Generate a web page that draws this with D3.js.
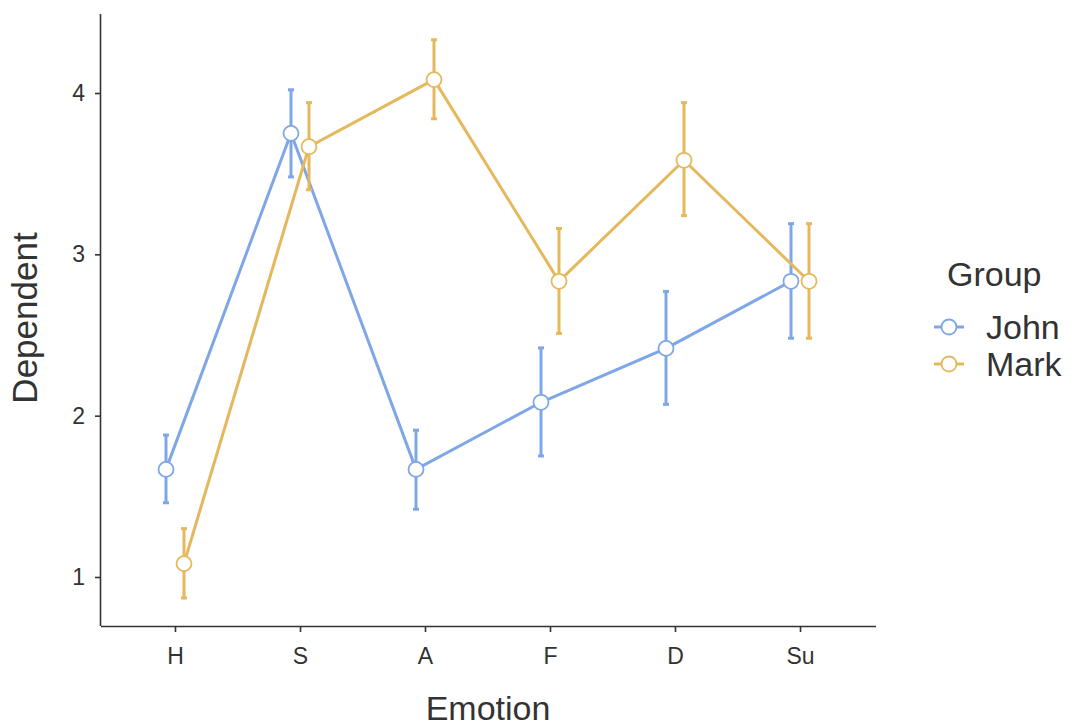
<!DOCTYPE html>
<html>
<head>
<meta charset="UTF-8">
<script src="https://d3js.org/d3.v7.min.js"></script>
<style>
  body { margin: 0; background: #ffffff; font-family: "Liberation Sans", Arial, sans-serif; }
  svg { display: block; }
</style>
</head>
<body>
<svg id="chart" width="1077" height="728"></svg>
<script>
const emotions = ["H", "S", "A", "F", "D", "Su"];
const groups = ["John", "Mark"];
const johnMean = [1.667, 3.75, 1.667, 2.083, 2.417, 2.833];
const johnLow  = [1.46, 3.48, 1.42, 1.75, 2.07, 2.48];
const johnHigh = [1.88, 4.02, 1.91, 2.42, 2.77, 3.19];
const markMean = [1.083, 3.667, 4.083, 2.833, 3.583, 2.833];
const markLow  = [0.87, 3.40, 3.84, 2.51, 3.24, 2.48];
const markHigh = [1.30, 3.94, 4.33, 3.16, 3.94, 3.19];
const yTicks = [1, 2, 3, 4];
const colors = { John: "#7fa6e6", Mark: "#e5b85c" };

const series = [
  { name: "John", mean: johnMean, low: johnLow, high: johnHigh, dodge: -9 },
  { name: "Mark", mean: markMean, low: markLow, high: markHigh, dodge: 9 }
];

const svg = d3.select("#chart");
const plotLeft = 101, plotRight = 876, plotTop = 14, plotBottom = 626;
const ink = "#333";
const font = "'Liberation Sans', Arial, sans-serif";

const x = d3.scalePoint().domain(emotions).range([175, 800]);
const y = d3.scaleLinear().domain([1, 4]).range([577, 93]);

// axes
const xAxis = svg.append("g").attr("transform", `translate(0,${plotBottom})`)
  .call(d3.axisBottom(x).tickSize(6).tickPadding(16).tickSizeOuter(0));
xAxis.select(".domain").attr("d", `M${plotLeft},0.5H${plotRight}`);
const yAxis = svg.append("g").attr("transform", `translate(${plotLeft},0)`)
  .call(d3.axisLeft(y).tickValues(yTicks).tickFormat(d3.format("d")).tickSize(6).tickPadding(10).tickSizeOuter(0));
yAxis.select(".domain").attr("d", `M-0.5,${plotTop}V${plotBottom}`);
svg.selectAll(".domain").attr("stroke", ink).attr("stroke-width", 1.6);
svg.selectAll(".tick line").attr("stroke", ink).attr("stroke-width", 1.6);
svg.selectAll(".tick text").attr("fill", ink).style("font-size", "23px").style("font-family", font);

svg.append("text").attr("x", 488).attr("y", 720).attr("text-anchor", "middle")
  .style("font-size", "34px").style("font-family", font).attr("fill", ink).text("Emotion");
svg.append("text").attr("transform", "translate(37,318) rotate(-90)").attr("text-anchor", "middle")
  .style("font-size", "35px").style("font-family", font).attr("fill", ink).text("Dependent");

const line = d3.line().x(d => d.x).y(d => d.y);

series.forEach(s => {
  const pts = emotions.map((e, i) => ({ x: x(e) + s.dodge, y: y(s.mean[i]), lo: y(s.low[i]), hi: y(s.high[i]) }));
  const g = svg.append("g");
  // error bars with small caps
  g.selectAll("line.err").data(pts).join("line")
    .attr("x1", d => d.x).attr("x2", d => d.x)
    .attr("y1", d => d.lo).attr("y2", d => d.hi)
    .attr("stroke", colors[s.name]).attr("stroke-width", 3);
  g.selectAll("line.capt").data(pts).join("line")
    .attr("x1", d => d.x - 3).attr("x2", d => d.x + 3)
    .attr("y1", d => d.hi).attr("y2", d => d.hi)
    .attr("stroke", colors[s.name]).attr("stroke-width", 3);
  g.selectAll("line.capb").data(pts).join("line")
    .attr("x1", d => d.x - 3).attr("x2", d => d.x + 3)
    .attr("y1", d => d.lo).attr("y2", d => d.lo)
    .attr("stroke", colors[s.name]).attr("stroke-width", 3);
  g.append("path").datum(pts).attr("d", line).attr("fill", "none")
    .attr("stroke", colors[s.name]).attr("stroke-width", 3);
  s.g = g; s.pts = pts;
});
series.forEach(s => {
  s.g.selectAll("circle").data(s.pts).join("circle")
    .attr("cx", d => d.x).attr("cy", d => d.y).attr("r", 7.5)
    .attr("fill", "#fff").attr("stroke", colors[s.name]).attr("stroke-width", 1.8);
});

// legend
const leg = svg.append("g").style("font-family", font);
leg.append("text").attr("x", 947).attr("y", 286).style("font-size", "34px").attr("fill", ink).text("Group");
groups.forEach((gname, i) => {
  const cy = 327 + i * 37;
  leg.append("line").attr("x1", 934).attr("x2", 964).attr("y1", cy).attr("y2", cy)
    .attr("stroke", colors[gname]).attr("stroke-width", 3);
  leg.append("circle").attr("cx", 949).attr("cy", cy).attr("r", 7.5)
    .attr("fill", "#fff").attr("stroke", colors[gname]).attr("stroke-width", 1.8);
  leg.append("text").attr("x", 986).attr("y", cy + 12).style("font-size", "34px").attr("fill", ink).text(gname);
});
</script>
</body>
</html>
